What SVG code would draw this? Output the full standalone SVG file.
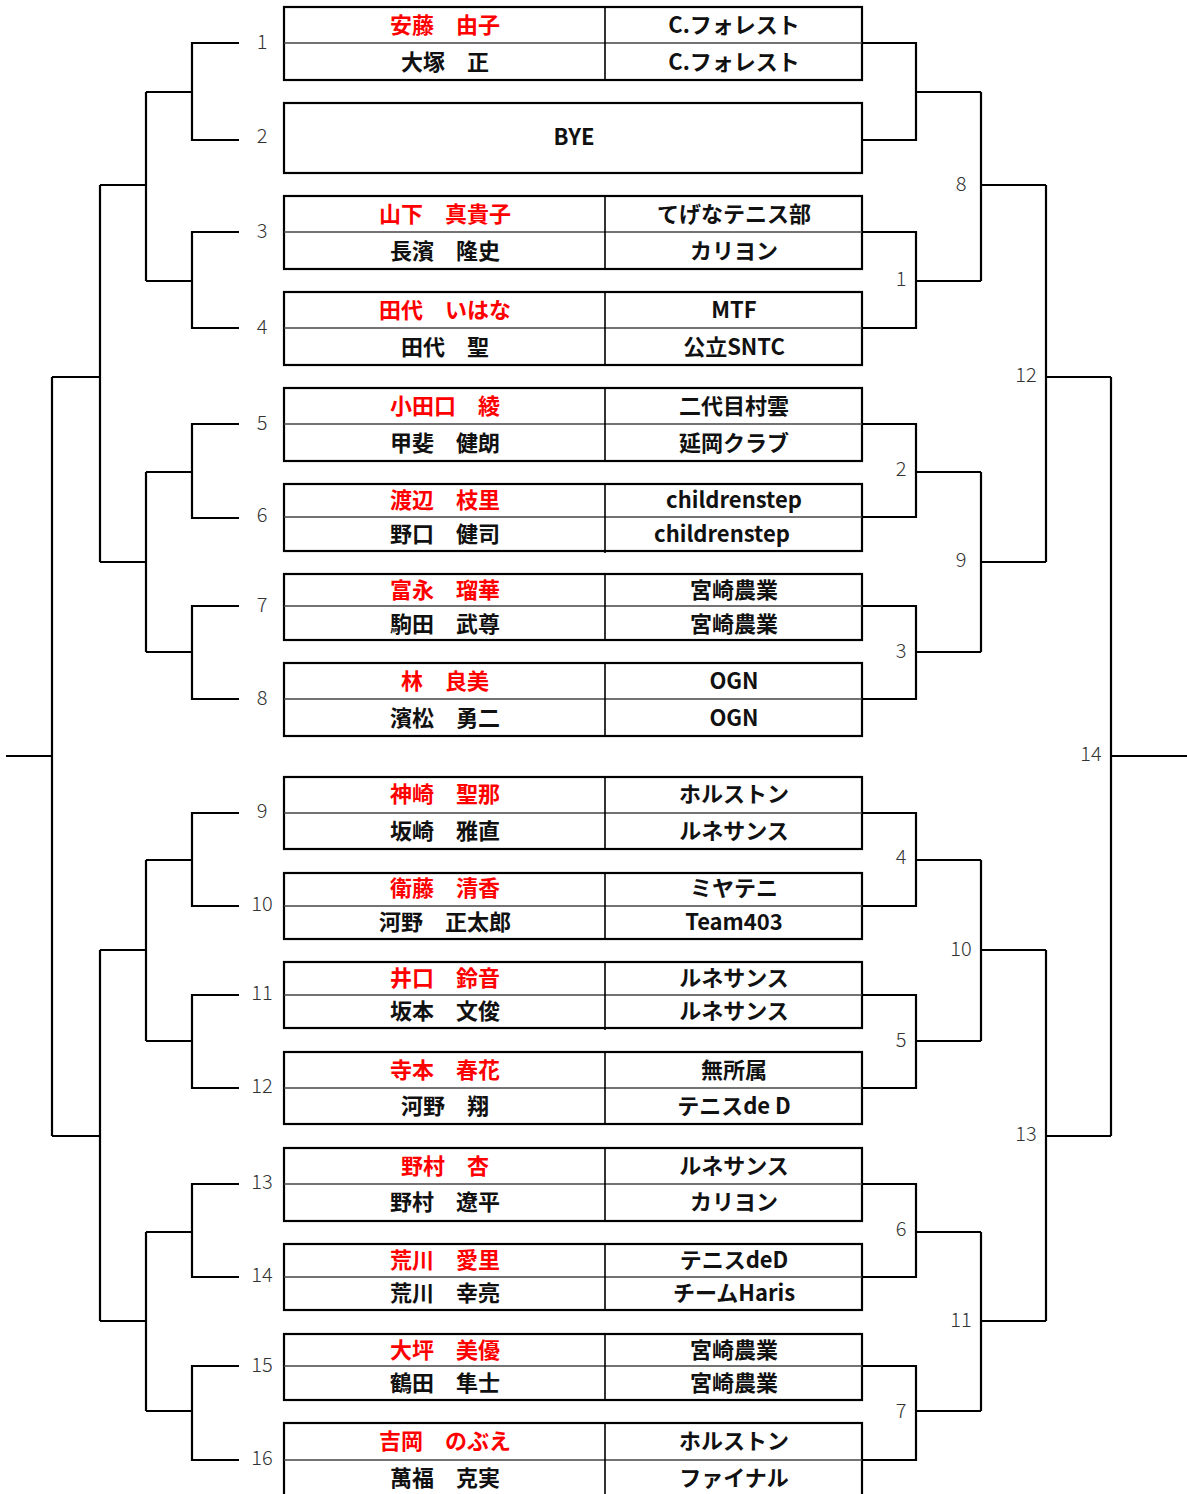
<svg xmlns="http://www.w3.org/2000/svg" width="1187" height="1494" viewBox="0 0 1187 1494">
<style>
.bx{fill:#fff;stroke:#000;stroke-width:2.2}
.dv{stroke:#000;stroke-width:1.6}
.mid{stroke:#444;stroke-width:1.5}
.c{fill:none;stroke:#000;stroke-width:2.2}
.t{font-family:"Noto Sans CJK JP","Noto Sans CJK SC",sans-serif;font-weight:bold;font-size:22px;text-anchor:middle;fill:#111}
.r{fill:#ff0000}
.n{font-family:"Noto Sans CJK JP","Noto Sans",sans-serif;font-weight:300;font-size:20px;text-anchor:middle;fill:#333}
</style>
<rect width="1187" height="1494" fill="#fff"/>
<g id="connectors">
<path class="c" d="M239,43H192V140H239M192,92H146"/>
<path class="c" d="M239,232H192V328H239M192,281H146"/>
<path class="c" d="M239,424H192V518H239M192,472H146"/>
<path class="c" d="M239,606H192V699H239M192,652H146"/>
<path class="c" d="M239,813H192V906H239M192,860H146"/>
<path class="c" d="M239,995H192V1088H239M192,1041H146"/>
<path class="c" d="M239,1184H192V1277H239M192,1232H146"/>
<path class="c" d="M239,1366H192V1460H239M192,1411H146"/>
<path class="c" d="M146,92V281M146,185H100"/>
<path class="c" d="M146,472V652M146,562H100"/>
<path class="c" d="M146,860V1041M146,950H100"/>
<path class="c" d="M146,1232V1411M146,1321H100"/>
<path class="c" d="M100,185V562M100,377H52"/>
<path class="c" d="M100,950V1321M100,1136H52"/>
<path class="c" d="M52,377V1136M52,756H6"/>
<path class="c" d="M862,43H916V140H862M916,92H981"/>
<path class="c" d="M862,232H916V328H862M916,281H981"/>
<path class="c" d="M862,424H916V517H862M916,472H981"/>
<path class="c" d="M862,606H916V699H862M916,652H981"/>
<path class="c" d="M862,813H916V906H862M916,860H981"/>
<path class="c" d="M862,995H916V1088H862M916,1041H981"/>
<path class="c" d="M862,1184H916V1277H862M916,1232H981"/>
<path class="c" d="M862,1366H916V1460H862M916,1411H981"/>
<path class="c" d="M981,92V281M981,185H1046"/>
<path class="c" d="M981,472V652M981,562H1046"/>
<path class="c" d="M981,860V1041M981,950H1046"/>
<path class="c" d="M981,1232V1411M981,1321H1046"/>
<path class="c" d="M1046,185V562M1046,377H1111"/>
<path class="c" d="M1046,950V1321M1046,1136H1111"/>
<path class="c" d="M1111,377V1136M1111,756H1187"/>
</g>
<g id="labels">
<text class="n" x="262" y="49">1</text>
<text class="n" x="262" y="143">2</text>
<text class="n" x="262" y="238">3</text>
<text class="n" x="262" y="334">4</text>
<text class="n" x="262" y="430">5</text>
<text class="n" x="262" y="522">6</text>
<text class="n" x="262" y="612">7</text>
<text class="n" x="262" y="705">8</text>
<text class="n" x="262" y="818">9</text>
<text class="n" x="262" y="911">10</text>
<text class="n" x="262" y="1000">11</text>
<text class="n" x="262" y="1093">12</text>
<text class="n" x="262" y="1189">13</text>
<text class="n" x="262" y="1282">14</text>
<text class="n" x="262" y="1372">15</text>
<text class="n" x="262" y="1465">16</text>
<text class="n" x="961" y="191">8</text>
<text class="n" x="901" y="286">1</text>
<text class="n" x="1026" y="382">12</text>
<text class="n" x="901" y="476">2</text>
<text class="n" x="961" y="567">9</text>
<text class="n" x="901" y="658">3</text>
<text class="n" x="1091" y="761">14</text>
<text class="n" x="901" y="864">4</text>
<text class="n" x="961" y="956">10</text>
<text class="n" x="901" y="1047">5</text>
<text class="n" x="1026" y="1141">13</text>
<text class="n" x="901" y="1236">6</text>
<text class="n" x="961" y="1327">11</text>
<text class="n" x="901" y="1418">7</text>
</g>
<g id="box1"><rect class="bx" x="284" y="7" width="578" height="73"/><line class="mid" x1="284" y1="43" x2="862" y2="43"/><line class="dv" x1="605" y1="7" x2="605" y2="80"/>
<text class="t r" x="445" y="33">安藤　由子</text><text class="t" x="734" y="33">C.フォレスト</text><text class="t" x="445" y="70">大塚　正</text><text class="t" x="734" y="70">C.フォレスト</text></g>
<g id="box2"><rect class="bx" x="284" y="103" width="578" height="70"/><text class="t" x="574" y="145">BYE</text></g>
<g id="box3"><rect class="bx" x="284" y="196" width="578" height="73"/><line class="mid" x1="284" y1="232" x2="862" y2="232"/><line class="dv" x1="605" y1="196" x2="605" y2="269"/>
<text class="t r" x="445" y="222">山下　真貴子</text><text class="t" x="734" y="222">てげなテニス部</text><text class="t" x="445" y="259">長濱　隆史</text><text class="t" x="734" y="259">カリヨン</text></g>
<g id="box4"><rect class="bx" x="284" y="292" width="578" height="73"/><line class="mid" x1="284" y1="328" x2="862" y2="328"/><line class="dv" x1="605" y1="292" x2="605" y2="365"/>
<text class="t r" x="445" y="318">田代　いはな</text><text class="t" x="734" y="318">MTF</text><text class="t" x="445" y="355">田代　聖</text><text class="t" x="734" y="355">公立SNTC</text></g>
<g id="box5"><rect class="bx" x="284" y="388" width="578" height="73"/><line class="mid" x1="284" y1="424" x2="862" y2="424"/><line class="dv" x1="605" y1="388" x2="605" y2="461"/>
<text class="t r" x="445" y="414">小田口　綾</text><text class="t" x="734" y="414">二代目村雲</text><text class="t" x="445" y="451">甲斐　健朗</text><text class="t" x="734" y="451">延岡クラブ</text></g>
<g id="box6"><rect class="bx" x="284" y="484" width="578" height="67"/><line class="mid" x1="284" y1="517" x2="862" y2="517"/><line class="dv" x1="605" y1="484" x2="605" y2="553"/>
<text class="t r" x="445" y="508">渡辺　枝里</text><text class="t" x="734" y="508">childrenstep</text><text class="t" x="445" y="542">野口　健司</text><text class="t" x="722" y="542">childrenstep</text></g>
<g id="box7"><rect class="bx" x="284" y="574" width="578" height="66"/><line class="mid" x1="284" y1="606" x2="862" y2="606"/><line class="dv" x1="605" y1="574" x2="605" y2="640"/>
<text class="t r" x="445" y="598">富永　瑠華</text><text class="t" x="734" y="598">宮崎農業</text><text class="t" x="445" y="632">駒田　武尊</text><text class="t" x="734" y="632">宮崎農業</text></g>
<g id="box8"><rect class="bx" x="284" y="663" width="578" height="73"/><line class="mid" x1="284" y1="699" x2="862" y2="699"/><line class="dv" x1="605" y1="663" x2="605" y2="736"/>
<text class="t r" x="445" y="689">林　良美</text><text class="t" x="734" y="689">OGN</text><text class="t" x="445" y="726">濱松　勇二</text><text class="t" x="734" y="726">OGN</text></g>
<g id="box9"><rect class="bx" x="284" y="777" width="578" height="72"/><line class="mid" x1="284" y1="813" x2="862" y2="813"/><line class="dv" x1="605" y1="777" x2="605" y2="849"/>
<text class="t r" x="445" y="802">神崎　聖那</text><text class="t" x="734" y="802">ホルストン</text><text class="t" x="445" y="839">坂崎　雅直</text><text class="t" x="734" y="839">ルネサンス</text></g>
<g id="box10"><rect class="bx" x="284" y="873" width="578" height="66"/><line class="mid" x1="284" y1="906" x2="862" y2="906"/><line class="dv" x1="605" y1="873" x2="605" y2="939"/>
<text class="t r" x="445" y="896">衛藤　清香</text><text class="t" x="734" y="896">ミヤテニ</text><text class="t" x="445" y="930">河野　正太郎</text><text class="t" x="734" y="930">Team403</text></g>
<g id="box11"><rect class="bx" x="284" y="962" width="578" height="66"/><line class="mid" x1="284" y1="995" x2="862" y2="995"/><line class="dv" x1="605" y1="962" x2="605" y2="1030"/>
<text class="t r" x="445" y="986">井口　鈴音</text><text class="t" x="734" y="986">ルネサンス</text><text class="t" x="445" y="1019">坂本　文俊</text><text class="t" x="734" y="1019">ルネサンス</text></g>
<g id="box12"><rect class="bx" x="284" y="1052" width="578" height="72"/><line class="mid" x1="284" y1="1088" x2="862" y2="1088"/><line class="dv" x1="605" y1="1052" x2="605" y2="1124"/>
<text class="t r" x="445" y="1078">寺本　春花</text><text class="t" x="734" y="1078">無所属</text><text class="t" x="445" y="1114">河野　翔</text><text class="t" x="734" y="1114">テニスde D</text></g>
<g id="box13"><rect class="bx" x="284" y="1148" width="578" height="73"/><line class="mid" x1="284" y1="1184" x2="862" y2="1184"/><line class="dv" x1="605" y1="1148" x2="605" y2="1221"/>
<text class="t r" x="445" y="1174">野村　杏</text><text class="t" x="734" y="1174">ルネサンス</text><text class="t" x="445" y="1210">野村　遼平</text><text class="t" x="734" y="1210">カリヨン</text></g>
<g id="box14"><rect class="bx" x="284" y="1244" width="578" height="66"/><line class="mid" x1="284" y1="1277" x2="862" y2="1277"/><line class="dv" x1="605" y1="1244" x2="605" y2="1310"/>
<text class="t r" x="445" y="1268">荒川　愛里</text><text class="t" x="734" y="1268">テニスdeD</text><text class="t" x="445" y="1301">荒川　幸亮</text><text class="t" x="734" y="1301">チームHaris</text></g>
<g id="box15"><rect class="bx" x="284" y="1334" width="578" height="66"/><line class="mid" x1="284" y1="1366" x2="862" y2="1366"/><line class="dv" x1="605" y1="1334" x2="605" y2="1400"/>
<text class="t r" x="445" y="1358">大坪　美優</text><text class="t" x="734" y="1358">宮崎農業</text><text class="t" x="445" y="1391">鶴田　隼士</text><text class="t" x="734" y="1391">宮崎農業</text></g>
<g id="box16"><rect class="bx" x="284" y="1423" width="578" height="75"/><line class="mid" x1="284" y1="1460" x2="862" y2="1460"/><line class="dv" x1="605" y1="1423" x2="605" y2="1498"/>
<text class="t r" x="445" y="1449">吉岡　のぶえ</text><text class="t" x="734" y="1449">ホルストン</text><text class="t" x="445" y="1486">萬福　克実</text><text class="t" x="734" y="1486">ファイナル</text></g>
</svg>
